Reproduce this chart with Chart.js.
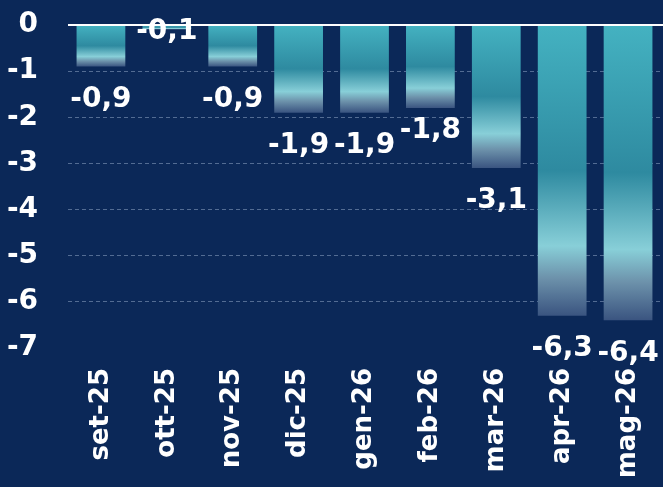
<!DOCTYPE html>
<html>
<head>
<meta charset="utf-8">
<script src="https://cdn.jsdelivr.net/npm/chart.js@4/dist/chart.umd.min.js"></script>
<style>
  html, body { margin: 0; padding: 0; background: #0b2858; }
  canvas { display: block; }
</style>
</head>
<body>
<canvas id="myChart" width="663" height="487"></canvas>
<script>
// months and the monthly values (negative)
var months = ["set-25", "ott-25", "nov-25", "dic-25", "gen-26", "feb-26", "mar-26", "apr-26", "mag-26"];
var values = [-0.9, -0.1, -0.9, -1.9, -1.9, -1.8, -3.1, -6.3, -6.4];
var yTicks = [0, -1, -2, -3, -4, -5, -6, -7];

var FONT = "'DejaVu Sans', sans-serif";

// gradient for each bar, from the zero line down to the bar end
function barGradient(ctx) {
  var chart = ctx.chart;
  if (!chart.chartArea || !chart.scales.y) return "#3aa6b6";
  var ys = chart.scales.y;
  var top = ys.getPixelForValue(0);
  var bot = ys.getPixelForValue(ctx.raw);
  if (bot - top < 2) return "#43b1c0";
  var g = chart.ctx.createLinearGradient(0, top, 0, bot);
  g.addColorStop(0, "#44b2c1");
  g.addColorStop(0.5, "#2e8aa0");
  g.addColorStop(0.76, "#88cfd8");
  g.addColorStop(0.87, "#6d92ab");
  g.addColorStop(1, "#3a5480");
  return g;
}

// value labels under the bars + white zero line
var labelNudge = { 1: -31, 5: -10 };
var extras = {
  id: "extras",
  afterDatasetsDraw: function (chart) {
    var c = chart.ctx;
    var ys = chart.scales.y;
    var area = chart.chartArea;
    var y0 = ys.getPixelForValue(0);
    c.save();
    c.strokeStyle = "#ffffff";
    c.lineWidth = 2;
    c.beginPath();
    c.moveTo(area.left, y0);
    c.lineTo(area.right + 2, y0);
    c.stroke();

    c.fillStyle = "#ffffff";
    c.font = "bold 28px " + FONT;
    c.textAlign = "center";
    c.textBaseline = "middle";
    chart.getDatasetMeta(0).data.forEach(function (bar, i) {
      var txt = values[i].toFixed(1).replace(".", ",");
      var off = 33 + (labelNudge[i] || 0);
      c.fillText(txt, bar.x, bar.y + off);
    });
    c.restore();
  }
};

var ctx = document.getElementById("myChart").getContext("2d");
var myChart = new Chart(ctx, {
  type: "bar",
  data: {
    labels: months,
    datasets: [
      {
        data: values,
        backgroundColor: barGradient,
        borderWidth: 0,
        barPercentage: 0.74,
        categoryPercentage: 1
      }
    ]
  },
  options: {
    responsive: false,
    devicePixelRatio: 1,
    animation: false,
    layout: { padding: { top: 25, right: 2, left: 0, bottom: 0 } },
    plugins: {
      legend: { display: false },
      tooltip: { enabled: false }
    },
    scales: {
      x: {
        grid: { display: false, drawTicks: false },
        border: { display: false },
        ticks: {
          color: "#ffffff",
          font: { family: FONT, size: 26, weight: "bold" },
          maxRotation: 90,
          minRotation: 90,
          padding: 20
        },
        afterFit: function (scale) {
          scale.height = 139;
          scale.paddingLeft = 0;
          scale.paddingRight = 0;
        }
      },
      y: {
        min: -7,
        max: 0,
        z: 1,
        afterBuildTicks: function (scale) {
          scale.ticks = yTicks.map(function (v) { return { value: v }; });
        },
        grid: {
          drawTicks: false,
          lineWidth: 1,
          color: function (c) {
            var v = c.tick ? c.tick.value : null;
            if (v === 0 || v === -7) return "rgba(0,0,0,0)";
            return "rgba(170,190,220,0.45)";
          }
        },
        border: { display: false, dash: [4, 3] },
        ticks: {
          color: "#ffffff",
          font: { family: FONT, size: 28, weight: "bold" },
          padding: 30,
          callback: function (v) { return String(v); }
        },
        afterFit: function (scale) {
          scale.width = 68;
          scale.paddingTop = 0;
          scale.paddingBottom = 0;
        }
      }
    }
  },
  plugins: [extras]
});
</script>
</body>
</html>
